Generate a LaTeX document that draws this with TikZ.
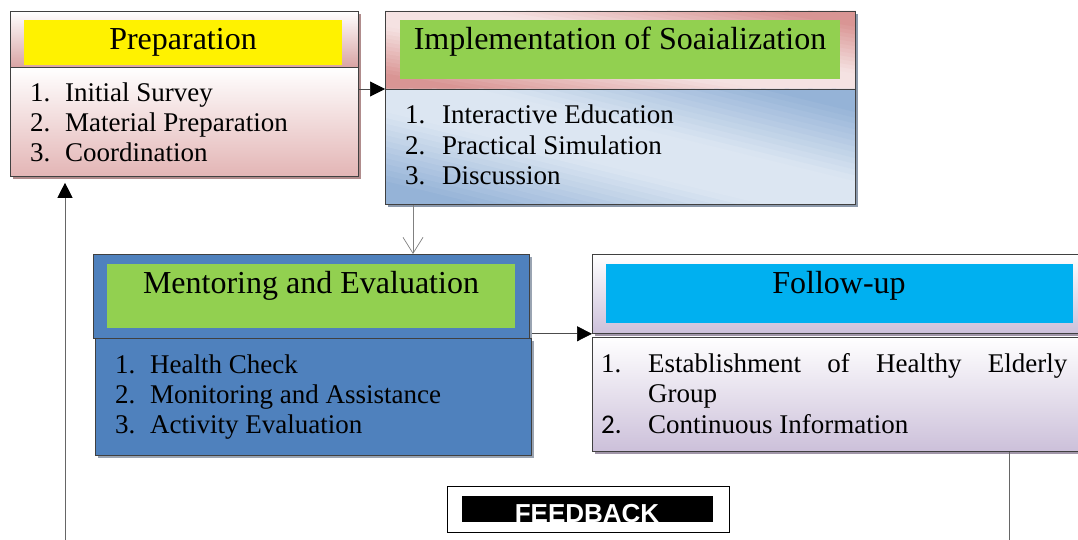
\documentclass[tikz,border=0pt]{standalone}
\usepackage{fontspec}
\setmainfont{Liberation Serif}
\newfontfamily\fbfont{Liberation Sans}
\newfontfamily\calfont{Carlito}
\usetikzlibrary{arrows.meta,shadows}

\definecolor{preppink}{HTML}{D9A3A3}
\definecolor{preplist}{HTML}{E3B5B5}
\definecolor{prepshd}{HTML}{B08C8C}
\definecolor{implpink}{HTML}{D99594}
\definecolor{impllight}{HTML}{F5E2E2}
\definecolor{implblue}{HTML}{95B3D7}
\definecolor{implpale}{HTML}{DCE6F2}
\definecolor{implshd}{HTML}{8C99AB}
\definecolor{mentblue}{HTML}{4F81BD}
\definecolor{mentshd}{HTML}{9AA4B2}
\definecolor{bandgreen}{HTML}{92D050}
\definecolor{bandcyan}{HTML}{00B0F0}
\definecolor{followlav}{HTML}{CCC0DA}
\definecolor{followshd}{HTML}{A095A8}

\begin{document}
\begin{tikzpicture}[x=1pt,y=-1pt,
  box/.style={draw=black!75, line width=0.8pt, inner sep=0pt, anchor=north west},
  shd/.style={drop shadow={shadow xshift=3pt, shadow yshift=-3pt, fill=#1, opacity=1}},
  band/.style={inner sep=0pt, anchor=north west},
  ttl/.style={font=\fontsize{32}{36}\selectfont, anchor=base, inner sep=0pt},
  item/.style={font=\fontsize{27}{30}\selectfont, anchor=base west, inner sep=0pt},
  arr/.style={draw=black!70, line width=0.7pt, -{Triangle[length=15pt,width=15pt,color=black]}},
  feed/.style={draw=black!60, line width=0.7pt},
]
\useasboundingbox (0,0) rectangle (1078,540);

% preparation
\node[box, shd=prepshd, top color=white, bottom color=preppink, minimum width=348pt, minimum height=56pt] (prep) at (10,11) {};
\node[band, fill=yellow, minimum width=318pt, minimum height=45pt] (prepband) at (24,20) {};
\node[ttl] (preptitle) at (183,50) {Preparation};
\node[box, shd=prepshd, top color=white, bottom color=preplist, minimum width=348pt, minimum height=109pt] (preplist) at (10,67) {};
\node[item] (prep1) at (30,102) {\makebox[35pt][l]{1.}Initial Survey};
\node[item] (prep2) at (30,132) {\makebox[35pt][l]{2.}Material Preparation};
\node[item] (prep3) at (30,162) {\makebox[35pt][l]{3.}Coordination};

% implementation: diagonal gradient made of strips
\node[box, shd=implshd, fill=implpink, minimum width=470pt, minimum height=78pt] (impl) at (385,11) {};
\node[box, shd=implshd, fill=implblue, minimum width=470pt, minimum height=115pt] (impllist) at (385,89) {};
\begin{scope}
  \clip (impl.north west) rectangle (impl.south east);
  \foreach \c in {-1.00,-0.95,...,0.96} {
    \pgfmathsetmacro\m{min(100,max(0,(abs(\c+0.025)-0.2)*160))}
    \fill[implpink!\m!impllight] (385+\c*470,11) -- (385+\c*470+28,11) -- (385+\c*470+498,89) -- (385+\c*470+470,89) -- cycle;
  }
\end{scope}
\begin{scope}
  \clip (impllist.north west) rectangle (impllist.south east);
  \foreach \c in {-1.00,-0.95,...,0.96} {
    \pgfmathsetmacro\m{min(100,max(0,(abs(\c+0.025)-0.2)*160))}
    \fill[implblue!\m!implpale] (385+\c*470,89) -- (385+\c*470+28,89) -- (385+\c*470+498,204) -- (385+\c*470+470,204) -- cycle;
  }
\end{scope}
\draw[draw=black!75, line width=0.8pt] (impl.north west) rectangle (impl.south east);
\draw[draw=black!75, line width=0.8pt] (impllist.north west) rectangle (impllist.south east);
\node[band, fill=bandgreen, minimum width=440pt, minimum height=59pt] (implband) at (400,20) {};
\node[ttl] (impltitle) at (620,50) {Implementation of Soaialization};
\node[item] (impl1) at (405,124) {\makebox[37pt][l]{1.}Interactive Education};
\node[item] (impl2) at (405,155) {\makebox[37pt][l]{2.}Practical Simulation};
\node[item] (impl3) at (405,185) {\makebox[37pt][l]{3.}Discussion};

% mentoring
\node[box, shd=mentshd, fill=mentblue, minimum width=436pt, minimum height=84pt] (ment) at (93,254) {};
\node[band, fill=bandgreen, minimum width=408pt, minimum height=64pt] (mentband) at (107,264) {};
\node[ttl] (menttitle) at (311,293) {Mentoring and Evaluation};
\node[box, shd=mentshd, fill=mentblue, minimum width=436pt, minimum height=117pt] (mentlist) at (95,338) {};
\node[item] (ment1) at (115,373) {\makebox[35pt][l]{1.}Health Check};
\node[item] (ment2) at (115,403) {\makebox[35pt][l]{2.}Monitoring and Assistance};
\node[item] (ment3) at (115,433) {\makebox[35pt][l]{3.}Activity Evaluation};

% follow-up
\node[box, shd=followshd, top color=white, bottom color=followlav, minimum width=500pt, minimum height=79pt] (follow) at (592,254) {};
\node[band, fill=bandcyan, minimum width=467pt, minimum height=59pt] (followband) at (606,264) {};
\node[ttl] (followtitle) at (839,293) {Follow-up};
\node[box, shd=followshd, top color=white, bottom color=followlav, minimum width=500pt, minimum height=114pt] (followlist) at (592,337) {};
\node[item] (follow1) at (601,372) {\makebox[47pt][l]{1.}\makebox[419pt][s]{Establishment\hfill of\hfill Healthy\hfill Elderly}};
\node[item] (follow2) at (601,402) {\makebox[47pt][l]{}Group};
\node[item] (follow3) at (601,433) {\makebox[47pt][l]{\calfont 2.}Continuous Information};

% feedback
\node[draw=black, line width=0.8pt, fill=white, anchor=north west, inner sep=0pt, minimum width=282pt, minimum height=46pt] (fbbox) at (447,486) {};
\node[fill=black, anchor=north west, inner sep=0pt, minimum width=251pt, minimum height=26pt] (fbbar) at (462,496) {};
\node[font=\fbfont\bfseries\fontsize{26}{30}\selectfont, text=white, anchor=base, inner sep=0pt] (fbtext) at (587,522) {FEEDBACK};

\coordinate (fbin) at (1009,540);
\coordinate (fbout) at (65,540);

% connectors
\draw[arr] (preplist.east |- impllist.north west) -- (impllist.north west);
\draw[draw=black!50, line width=0.7pt, -{Straight Barb[length=16pt,width=20pt]}] ([xshift=28pt]impllist.south west) -- ([xshift=28pt]impllist.south west |- ment.north);
\draw[arr] (mentlist.east |- follow.south west) -- (follow.south west);
\draw[feed] (followlist.south -| fbin) -- (fbin);
\draw[feed, -{Triangle[length=15pt,width=15pt,color=black]}] (fbout) -- ([yshift=-6pt]preplist.south -| fbout);
\end{tikzpicture}
\end{document}
